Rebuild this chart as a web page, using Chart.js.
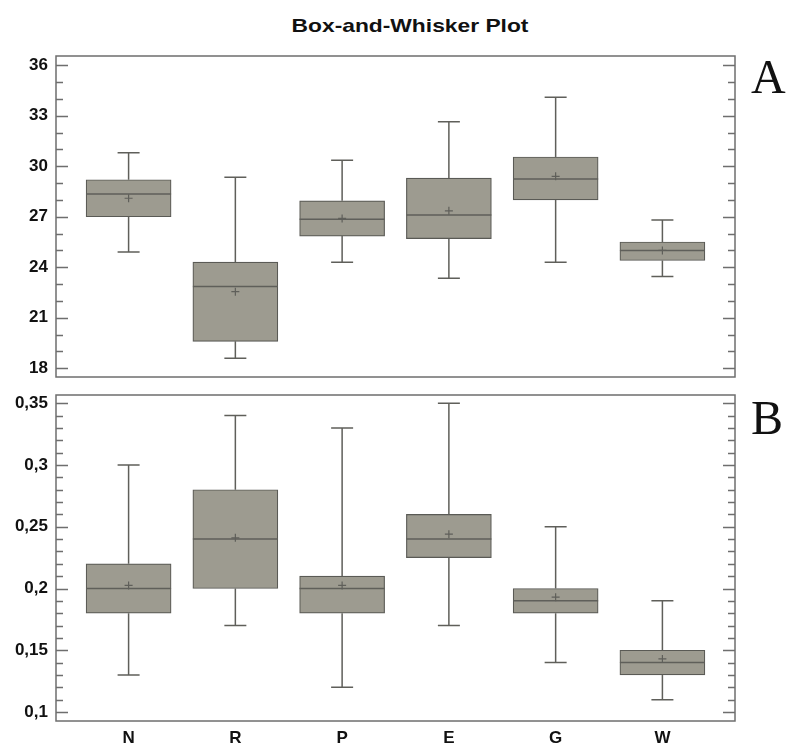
<!DOCTYPE html>
<html>
<head>
<meta charset="utf-8">
<script src="https://cdn.jsdelivr.net/npm/chart.js@4.4.1/dist/chart.umd.min.js"></script>
<style>
  body { margin: 0; background: #fff; }
  #wrap { position: relative; width: 786px; height: 745px; overflow: hidden; }
  .panel { position: absolute; left: 0; }
  #title {
    position: absolute; left: 410px; top: 15px;
    transform: translateX(-50%) scaleX(1.2);
    font: bold 19px "Liberation Sans", Arial, sans-serif; color: #111; white-space: nowrap;
  }
  .tag {
    position: absolute; left: 751px; line-height: 1;
    font: 48px "Liberation Serif", "Times New Roman", serif; color: #111;
  }
</style>
</head>
<body>
<div id="wrap">
  <div id="title">Box-and-Whisker Plot</div>
  <canvas id="chartA" class="panel" width="786" height="385" style="top:0"></canvas>
  <canvas id="chartB" class="panel" width="786" height="360" style="top:385px"></canvas>
  <div class="tag" style="top:49px">A</div>
  <div class="tag" style="top:390px">B</div>
</div>
<script>
const categories = ['N', 'R', 'P', 'E', 'G', 'W'];

// panel A
const lowA    = [24.9, 18.6, 24.3, 23.35, 24.3, 23.45];
const q1A     = [27.0, 19.6, 25.85, 25.7, 28.0, 24.4];
const medianA = [28.35, 22.85, 26.85, 27.1, 29.25, 25.0];
const meanA   = [28.1, 22.55, 26.9, 27.35, 29.4, 25.0];
const q3A     = [29.2, 24.3, 27.95, 29.3, 30.55, 25.5];
const highA   = [30.8, 29.35, 30.35, 32.65, 34.1, 26.8];
const ticksA  = [18, 21, 24, 27, 30, 33, 36];

// panel B
const lowB    = [0.13, 0.17, 0.12, 0.17, 0.14, 0.11];
const q1B     = [0.18, 0.20, 0.18, 0.225, 0.18, 0.13];
const medianB = [0.20, 0.24, 0.20, 0.24, 0.19, 0.14];
const meanB   = [0.2025, 0.241, 0.2025, 0.244, 0.193, 0.143];
const q3B     = [0.22, 0.28, 0.21, 0.26, 0.20, 0.15];
const highB   = [0.30, 0.34, 0.33, 0.35, 0.25, 0.19];
const ticksB  = [0.1, 0.15, 0.2, 0.25, 0.3, 0.35];

const tickFont = { family: '"Liberation Sans", Arial, sans-serif', size: 17, weight: 'bold' };

function noPad(s) {
  s.paddingTop = 0; s.paddingBottom = 0; s.paddingLeft = 0; s.paddingRight = 0;
}

// whiskers, median, mean and the frame with inward ticks
function boxExtras(stats, minorStep, majorEvery) {
  return {
    id: 'boxExtras',
    afterDatasetsDraw(chart) {
      const ctx = chart.ctx;
      const x = chart.scales.x, y = chart.scales.y;
      const bars = chart.getDatasetMeta(0).data;
      ctx.save();
      ctx.strokeStyle = '#5f5f5a';
      stats.low.forEach((v, i) => {
        const cx = x.getPixelForValue(i);
        const half = bars[i].width / 2;
        const yl = y.getPixelForValue(v), yh = y.getPixelForValue(stats.high[i]);
        const y1 = y.getPixelForValue(stats.q1[i]), y3 = y.getPixelForValue(stats.q3[i]);
        const ym = y.getPixelForValue(stats.median[i]), ya = y.getPixelForValue(stats.mean[i]);
        ctx.lineWidth = 1.5;
        ctx.beginPath();
        ctx.moveTo(cx, y1); ctx.lineTo(cx, yl);
        ctx.moveTo(cx - 11, yl); ctx.lineTo(cx + 11, yl);
        ctx.moveTo(cx, y3); ctx.lineTo(cx, yh);
        ctx.moveTo(cx - 11, yh); ctx.lineTo(cx + 11, yh);
        ctx.moveTo(cx - half, ym); ctx.lineTo(cx + half, ym);
        ctx.stroke();
        ctx.lineWidth = 1.2;
        ctx.beginPath();
        ctx.moveTo(cx - 4, ya); ctx.lineTo(cx + 4, ya);
        ctx.moveTo(cx, ya - 4); ctx.lineTo(cx, ya + 4);
        ctx.stroke();
      });
      ctx.restore();
    },
    afterDraw(chart) {
      const ctx = chart.ctx;
      const a = chart.chartArea;
      const y = chart.scales.y;
      ctx.save();
      ctx.strokeStyle = '#6e6e6e';
      ctx.lineWidth = 1.5;
      ctx.strokeRect(a.left, a.top, a.right - a.left, a.bottom - a.top);
      ctx.beginPath();
      const n0 = Math.ceil(y.min / minorStep - 1e-6), n1 = Math.floor(y.max / minorStep + 1e-6);
      for (let n = n0; n <= n1; n++) {
        const py = Math.round(y.getPixelForValue(n * minorStep)) + 0.5;
        const len = n % majorEvery === 0 ? 12 : 7;
        ctx.moveTo(a.left, py); ctx.lineTo(a.left + len, py);
        ctx.moveTo(a.right, py); ctx.lineTo(a.right - len, py);
      }
      ctx.stroke();
      ctx.restore();
    }
  };
}

function makePanel(id, stats, yMin, yMax, yTicks, minorStep, majorEvery, showX, padding) {
  return new Chart(document.getElementById(id), {
    type: 'bar',
    data: {
      datasets: [{
        data: categories.map((c, i) => ({ x: i, y: [stats.q1[i], stats.q3[i]] })),
        backgroundColor: '#9d9b90',
        borderColor: '#5a5a55',
        borderWidth: 1.2,
        borderSkipped: false,
        barThickness: 85
      }]
    },
    options: {
      responsive: false,
      animation: false,
      layout: { padding },
      plugins: { legend: { display: false }, tooltip: { enabled: false } },
      scales: {
        x: {
          type: 'linear',
          min: -0.68, max: 5.68,
          offset: false,
          display: showX,
          grid: { display: false, drawTicks: false },
          border: { display: false },
          afterBuildTicks: s => { s.ticks = categories.map((c, i) => ({ value: i })); },
          afterFit: s => { noPad(s); if (showX) s.height = 24; },
          ticks: {
            padding: 7, maxRotation: 0, autoSkip: false,
            color: '#111', font: tickFont,
            callback: v => categories[v]
          }
        },
        y: {
          min: yMin, max: yMax,
          grid: { display: false, drawTicks: false },
          border: { display: false },
          afterBuildTicks: s => { s.ticks = yTicks.map(v => ({ value: v })); },
          afterFit: s => { noPad(s); s.width = 56; },
          ticks: {
            padding: 8, color: '#111', font: tickFont,
            callback: v => String(v).replace('.', ',')
          }
        }
      }
    },
    plugins: [boxExtras(stats, minorStep, majorEvery)]
  });
}

makePanel('chartA',
  { low: lowA, q1: q1A, median: medianA, mean: meanA, q3: q3A, high: highA },
  17.48, 36.55, ticksA, 1, 3, false, { top: 56, right: 51, bottom: 8, left: 0 });

makePanel('chartB',
  { low: lowB, q1: q1B, median: medianB, mean: meanB, q3: q3B, high: highB },
  0.0927, 0.3567, ticksB, 0.01, 5, true, { top: 10, right: 51, bottom: 0, left: 0 });
</script>
</body>
</html>
